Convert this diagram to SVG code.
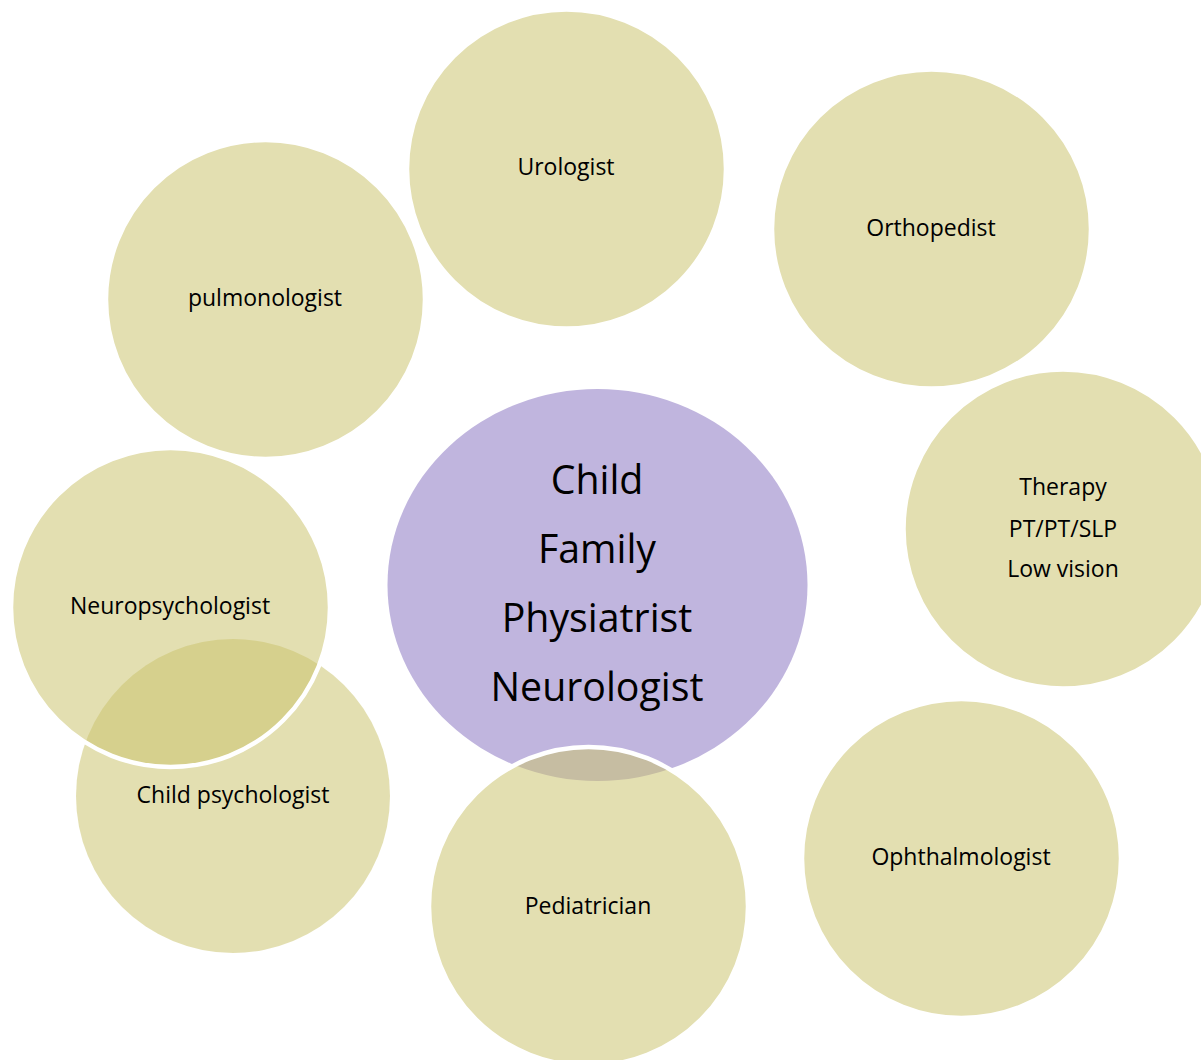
<svg xmlns="http://www.w3.org/2000/svg" width="1201" height="1060" viewBox="0 0 1201 1060">
<style>
.c{fill:rgb(203,195,110);fill-opacity:0.536;stroke:#fff;stroke-width:4.5}
.cn{fill:rgb(203,195,110);fill-opacity:0.536;stroke:none}
.t{font-family:"Open Sans","Liberation Sans",sans-serif;font-size:23px;fill:#000;text-anchor:middle}
.big{font-family:"Open Sans","Liberation Sans",sans-serif;font-size:39.3px;fill:#000;text-anchor:middle}
</style>
<g id="connectors"></g>
<g id="center">
<ellipse cx="597.5" cy="585" rx="210" ry="196" fill="#c0b5de"/>
<text class="big" x="597" y="494">Child</text>
<text class="big" x="597" y="563">Family</text>
<text class="big" x="597" y="632">Physiatrist</text>
<text class="big" x="597" y="701">Neurologist</text>
</g>
<g id="urologist">
<circle class="c" cx="566.5" cy="169" r="159.5"/>
<text class="t" x="566" y="175">Urologist</text>
</g>
<g id="orthopedist">
<circle class="c" cx="931.5" cy="229" r="159.5"/>
<text class="t" x="931" y="236">Orthopedist</text>
</g>
<g id="pulmonologist">
<circle class="c" cx="265.5" cy="299.5" r="159.5"/>
<text class="t" x="265" y="306">pulmonologist</text>
</g>
<g id="therapy">
<circle class="c" cx="1063" cy="529" r="159.5"/>
<text class="t" x="1063" y="495">Therapy</text>
<text class="t" x="1063" y="537">PT/PT/SLP</text>
<text class="t" x="1063" y="577">Low vision</text>
</g>
<g id="ophthalmologist">
<circle class="c" cx="961.5" cy="858.5" r="159.5"/>
<text class="t" x="961" y="865">Ophthalmologist</text>
</g>
<g id="child-psychologist">
<circle class="cn" cx="233" cy="796" r="157"/>
<text class="t" x="233" y="803">Child psychologist</text>
</g>
<g id="neuropsychologist">
<circle class="c" cx="170.5" cy="607.5" r="159.5"/>
<text class="t" x="170" y="614">Neuropsychologist</text>
</g>
<g id="pediatrician">
<circle class="c" cx="588.5" cy="906.5" r="159.5"/>
<text class="t" x="588" y="914">Pediatrician</text>
</g>
</svg>
